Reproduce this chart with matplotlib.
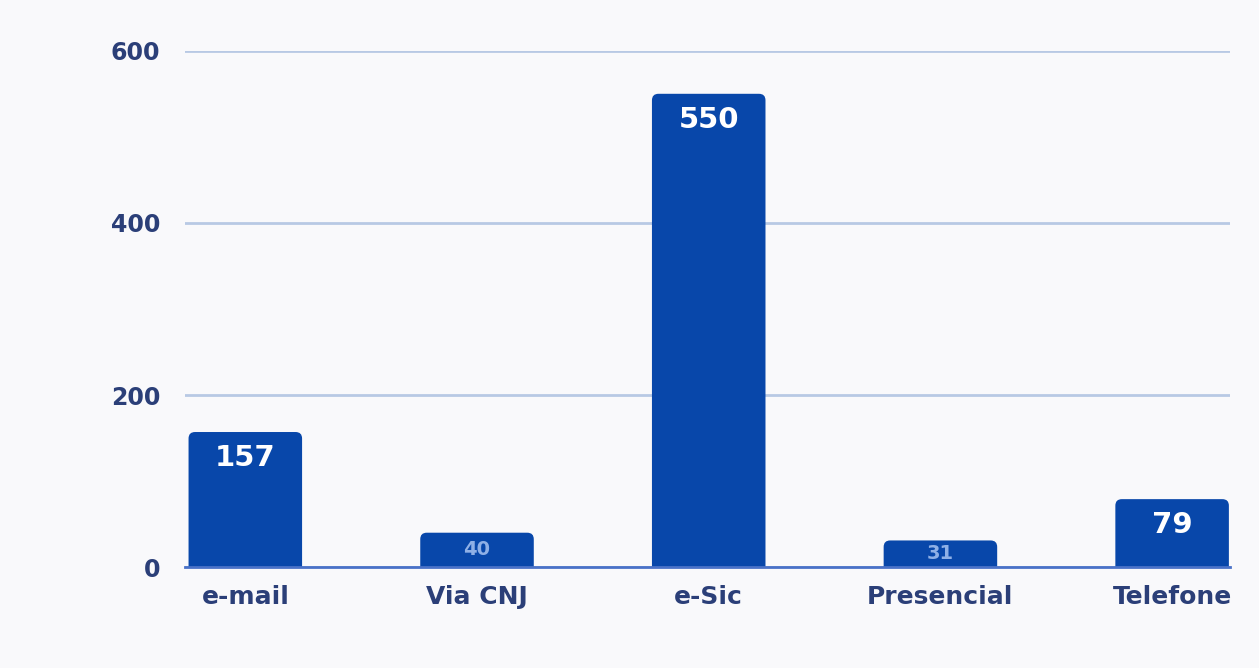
import matplotlib.pyplot as plt
from matplotlib.patches import FancyBboxPatch
import numpy as np

categories = ["e-mail", "Via CNJ", "e-Sic", "Presencial", "Telefone"]
values = [157, 40, 550, 31, 79]
yticks = [0, 200, 400, 600]

BAR = "#0847aa"
TEXT = "#2b3f78"

plt.rcParams['font.family'] = ['DejaVu Sans']

fig = plt.figure(figsize=(12.59, 6.68), dpi=100)
fig.patch.set_facecolor("#f9f9fb")
ax = fig.add_axes([0.147, 0.151, 0.83, 0.773])
ax.set_facecolor("none")
ax.set_xlim(-0.26, 4.25)
ax.set_ylim(0, 600)

x = np.arange(len(categories))
bars = ax.bar(x, values, width=0.49, color=BAR, zorder=3)

# swap plain bars for ones with rounded top corners
fig.canvas.draw()
bb = ax.get_window_extent()
aspect = (600 / bb.height) / (4.51 / bb.width)
for b in bars:
    b.set_visible(False)
    r = FancyBboxPatch((b.get_x(), -30), b.get_width(), b.get_height() + 30,
                       boxstyle="round,pad=0,rounding_size=0.028",
                       mutation_aspect=aspect, fc=BAR, ec="none", zorder=3)
    ax.add_patch(r)

for b, v in zip(bars, values):
    cx = b.get_x() + b.get_width() / 2
    if v > 60:
        ax.text(cx, v - 14, str(v), ha="center", va="top", color="white",
                fontsize=21, fontweight="semibold", zorder=4)
    else:
        ax.text(cx, v / 2, str(v), ha="center", va="center", color="#8fb0e6",
                fontsize=14, fontweight="bold", zorder=4)

ax.set_yticks(yticks)
ax.set_xticks(x)
ax.set_xticklabels(categories)
ax.tick_params(axis="both", length=0, colors=TEXT)
ax.tick_params(axis="x", pad=13, labelsize=18)
ax.tick_params(axis="y", pad=18, labelsize=17)
for lbl in ax.get_xticklabels() + ax.get_yticklabels():
    lbl.set_fontweight("bold")

ax.yaxis.grid(True, color="#b8c9e4", linewidth=2, zorder=0)
for s in ["top", "right", "left"]:
    ax.spines[s].set_visible(False)
ax.spines["bottom"].set_color("#4a72c8")
ax.spines["bottom"].set_linewidth(2)
ax.spines["bottom"].set_zorder(5)

fig.savefig("out.png", dpi=100, facecolor=fig.get_facecolor())
